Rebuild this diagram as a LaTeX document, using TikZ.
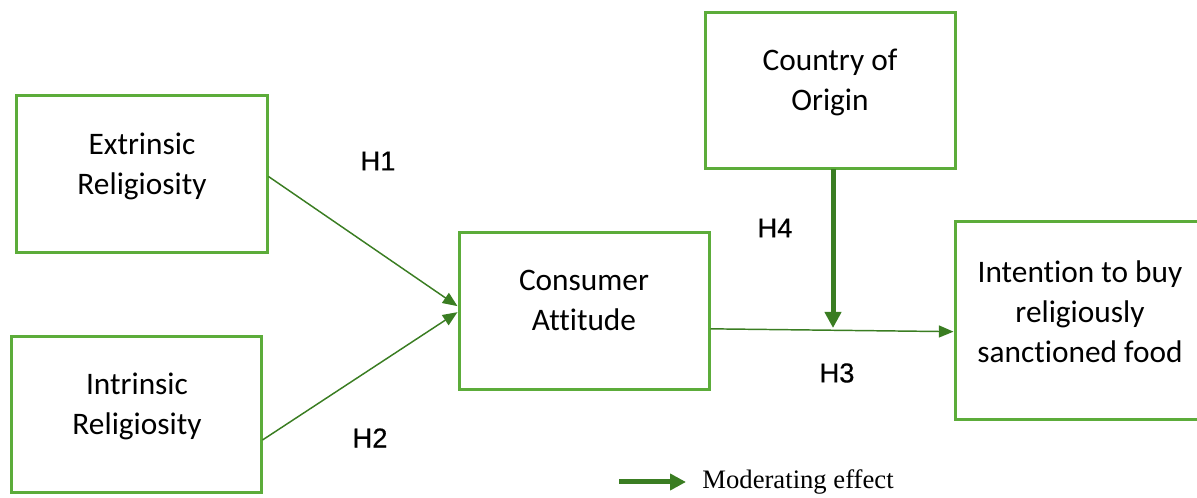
\documentclass[tikz,border=0pt]{standalone}
\usepackage{fontspec}
\setmainfont{Carlito}[Ligatures=NoCommon]
\newfontfamily\hfont{Liberation Sans}[FakeBold=0.5]
\newfontfamily\legfont{Liberation Serif}
\usepackage{tikz}
\usetikzlibrary{arrows.meta}

\definecolor{boxgreen}{RGB}{92,172,58}
\definecolor{arrgreen}{RGB}{58,125,34}

\begin{document}
\begin{tikzpicture}[x=0.75pt,y=-0.75pt,semithick,
                    >={Triangle[length=11pt,width=9pt]}]
\tikzstyle{box}=[draw=boxgreen,line width=2.25pt,fill=none,inner sep=0pt]
\tikzstyle{txt}=[align=center,inner sep=0pt]
\tikzstyle{hyp}=[inner sep=0pt,font=\hfont\fontsize{20.5pt}{24pt}\selectfont]
\tikzstyle{thin}=[->,draw=arrgreen,fill=arrgreen,line width=1.1pt]
\tikzstyle{thick}=[-{Triangle[length=12pt,width=12pt]},draw=arrgreen,fill=arrgreen,line width=3.75pt]
\tikzset{font=\fontsize{23.5pt}{30pt}\selectfont}

  \useasboundingbox (0,0) rectangle (1197,498);

        \node[box,minimum width=188.25pt,minimum height=117.75pt]   (er)  at (141.5,174.5) {};
        \node[txt]                                                  (ert) at (142,166)     {Extrinsic\\Religiosity};

        \node[box,minimum width=187.5pt,minimum height=117pt]       (ir)  at (136,415)     {};
        \node[txt]                                                  (irt) at (137,406)     {Intrinsic\\Religiosity};

        \node[box,minimum width=187.5pt,minimum height=117.75pt]    (ca)  at (584,311.5)   {};
        \node[txt]                                                  (cat) at (584,300)     {Consumer\\Attitude};

        \node[box,minimum width=187.5pt,minimum height=117pt]       (coo) at (830,91)      {};
        \node[txt]                                                  (coot) at (830,82.5)   {Country of\\Origin};

        \node[box,minimum width=189pt,minimum height=148.5pt]       (itb) at (1081,321)    {};
        \node[txt]                                                  (itbt) at (1080,312)   {Intention to buy\\religiously\\sanctioned food};

        \node[hyp] (h1) at (378,161) {H1};
        \node[hyp] (h2) at (370,438) {H2};
        \node[hyp] (h3) at (837,373) {H3};
        \node[hyp] (h4) at (775,228) {H4};

        \coordinate (mod) at (833,328);
        \coordinate (leg0) at (619,482);
        \node[inner sep=0pt,anchor=west,font=\legfont\fontsize{20pt}{24pt}\selectfont] (leg) at (702,482) {Moderating effect};

        \path
        ([yshift=-1.5pt]er.east)   edge[thin] node {} ([yshift=4pt]ca.west)
        ([yshift=-18.75pt]ir.east) edge[thin] node {} ([yshift=-0.5pt]ca.west)
        ([yshift=-13pt]ca.east)    edge[thin] node {} ([yshift=-8pt]itb.west)
        ; %end path

        \draw[thick] ([yshift=1pt]coo.south -| mod) -- (mod);
        \draw[thick] (leg0) -- ([xshift=-12pt]leg.west);

\end{tikzpicture}
\end{document}
